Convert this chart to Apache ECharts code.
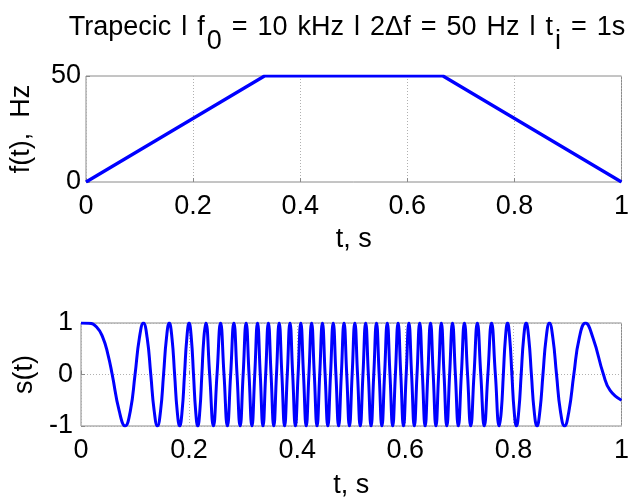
<!DOCTYPE html>
<html><head><meta charset="utf-8">
<script src="https://cdn.jsdelivr.net/npm/echarts@6/dist/echarts.min.js"></script>
<style>html,body{margin:0;padding:0;background:#fff}#c{width:632px;height:500px}</style>
</head><body><div id="c"></div>
<script>
// frequency law f(t)
const freqTime = [0, 0.33333, 0.66667, 1];
const freqHz = [0, 50, 50, 0];
const xTicks = [0, 0.2, 0.4, 0.6, 0.8, 1];

// signal s(t) read at extremes, zero crossings (and intermediate points where slow)
const sigTime = [
0, 0.01443, 0.02887, 0.04082, 0.05, 0.05774, 0.07071, 0.08165, 0.09129, 0.1,
0.10801, 0.11547, 0.12247, 0.1291, 0.1354, 0.14142, 0.1472, 0.15275, 0.15811, 0.1633,
0.16833, 0.17321, 0.17795, 0.18257, 0.18708, 0.19149, 0.19579, 0.2, 0.20412, 0.20817,
0.21213, 0.21602, 0.21985, 0.22361, 0.2273, 0.23094,
0.23805, 0.24495, 0.25166, 0.2582, 0.26458, 0.2708, 0.27689, 0.28284, 0.28868, 0.29439,
0.3, 0.30551, 0.31091, 0.31623, 0.32146, 0.3266, 0.33166,
0.33667, 0.34167, 0.34667, 0.35167, 0.35667, 0.36167, 0.36667, 0.37167, 0.37667, 0.38167,
0.38667, 0.39167, 0.39667, 0.40167, 0.40667, 0.41167, 0.41667, 0.42167, 0.42667, 0.43167,
0.43667, 0.44167, 0.44667, 0.45167, 0.45667, 0.46167, 0.46667, 0.47167, 0.47667, 0.48167,
0.48667, 0.49167, 0.49667, 0.50167, 0.50667, 0.51167, 0.51667, 0.52167, 0.52667, 0.53167,
0.53667, 0.54167, 0.54667, 0.55167, 0.55667, 0.56167, 0.56667, 0.57167, 0.57667, 0.58167,
0.58667, 0.59167, 0.59667, 0.60167, 0.60667, 0.61167, 0.61667, 0.62167, 0.62667, 0.63167,
0.63667, 0.64167, 0.64667, 0.65167, 0.65667, 0.66167, 0.66667,
0.6717, 0.67682, 0.68202, 0.68731, 0.69268, 0.69815, 0.70373, 0.70941, 0.7152, 0.72111,
0.72715, 0.73333, 0.73966, 0.74614, 0.75279, 0.75963, 0.76667, 0.77392,
0.77764, 0.78142, 0.78526, 0.78918, 0.79317, 0.79724, 0.80139, 0.80564, 0.80997, 0.81441,
0.81895, 0.82362, 0.82841, 0.83333, 0.83841, 0.84365, 0.84908, 0.8547, 0.86056, 0.86667,
0.87307, 0.87981, 0.88696, 0.89459, 0.90282, 0.91181, 0.92183, 0.93333, 0.9473, 0.96667,
0.97892, 1
];
const sigValue = [
1, 0.99518, 0.92388, 0.70711, 0.38268, 0, -0.70711, -1, -0.70711, 0,
0.70711, 1, 0.70711, 0, -0.70711, -1, -0.70711, 0, 0.70711, 1,
0.70711, 0, -0.70711, -1, -0.70711, 0, 0.70711, 1, 0.70711, 0,
-0.70711, -1, -0.70711, 0, 0.70711, 1,
0, -1, 0, 1, 0, -1, 0, 1, 0, -1,
0, 1, 0, -1, 0, 1, 0,
-1, 0, 1, 0, -1, 0, 1, 0, -1, 0,
1, 0, -1, 0, 1, 0, -1, 0, 1, 0,
-1, 0, 1, 0, -1, 0, 1, 0, -1, 0,
1, 0, -1, 0, 1, 0, -1, 0, 1, 0,
-1, 0, 1, 0, -1, 0, 1, 0, -1, 0,
1, 0, -1, 0, 1, 0, -1, 0, 1, 0,
-1, 0, 1, 0, -1, 0, 1,
0, -1, 0, 1, 0, -1, 0, 1, 0, -1,
0, 1, 0, -1, 0, 1, 0, -1,
-0.70711, 0, 0.70711, 1, 0.70711, 0, -0.70711, -1, -0.70711, 0,
0.70711, 1, 0.70711, 0, -0.70711, -1, -0.70711, 0, 0.70711, 1,
0.70711, 0, -0.70711, -1, -0.70711, 0, 0.70711, 1, 0.70711, 0,
-0.30902, -0.5
];

const FONT = 'Liberation Sans';
const TICK_FS = 27;
const chart = echarts.init(document.getElementById('c'), null, {renderer: 'canvas'});
const gridCommon = {left: 81, right: 5, show: true, borderColor: '#8a8a8a', borderWidth: 1, backgroundColor: 'transparent'};
const splitStyle = {show: true, lineStyle: {color: '#b0b0b0', type: [1, 2], width: 1}};
function xAxis(idx, gap) {
  return {
    gridIndex: idx, type: 'value', min: 0, max: 1, interval: 0.2,
    name: 't, s', nameLocation: 'middle', nameGap: gap,
    nameTextStyle: {fontFamily: FONT, fontSize: TICK_FS, color: '#000'},
    axisLine: {show: false},
    axisTick: {show: true, inside: true, length: 4, lineStyle: {color: '#8a8a8a'}},
    axisLabel: {fontFamily: FONT, fontSize: TICK_FS, color: '#000', margin: 11,
      formatter: v => String(xTicks.find(t => Math.abs(t - v) < 1e-9) ?? v)},
    splitLine: splitStyle
  };
}
const A = {fontFamily: FONT, fontSize: 27, color: '#000', fontWeight: 'normal', verticalAlign: 'top'};
chart.setOption({
  animation: false,
  title: {
    text: '{a|Trapecic}{w| }{a|l}{w| }{a|f}{s|0}{w| }{a|=}{w| }{a|10}{w| }{a|kHz}{w| }{a|l}{w| }{a|2Δf}{w| }{a|=}{w| }{a|50}{w| }{a|Hz}{w| }{a|l}{w| }{a|t}{s|i}{w| }{a|=}{w| }{a|1s}',
    left: 342, top: 9, textAlign: 'center',
    textStyle: {fontWeight: 'normal', rich: {
      a: A,
      w: Object.assign({}, A, {width: 10}),
      s: Object.assign({}, A, {padding: [14, 0, 0, 2]})
    }}
  },
  grid: [
    Object.assign({top: 76, height: 106}, gridCommon),
    Object.assign({top: 323, height: 107}, gridCommon)
  ],
  xAxis: [xAxis(0, 44), xAxis(1, 46)],
  yAxis: [
    {gridIndex: 0, type: 'value', min: 0, max: 50, interval: 50,
     name: 'f(t),  Hz', nameLocation: 'middle', nameGap: 51,
     nameTextStyle: {fontFamily: FONT, fontSize: TICK_FS, color: '#000'},
     axisLine: {show: false},
     axisTick: {show: true, inside: true, length: 4, lineStyle: {color: '#8a8a8a'}},
     axisLabel: {fontFamily: FONT, fontSize: TICK_FS, color: '#000', margin: 5},
     splitLine: {show: false}},
    {gridIndex: 1, type: 'value', min: -1, max: 1, interval: 1,
     name: 's(t)', nameLocation: 'middle', nameGap: 40,
     nameTextStyle: {fontFamily: FONT, fontSize: TICK_FS, color: '#000'},
     axisLine: {show: false},
     axisTick: {show: true, inside: true, length: 4, lineStyle: {color: '#8a8a8a'}},
     axisLabel: {fontFamily: FONT, fontSize: TICK_FS, color: '#000', margin: 8},
     splitLine: splitStyle}
  ],
  series: [
    {type: 'line', xAxisIndex: 0, yAxisIndex: 0, showSymbol: false, symbol: 'none',
     lineStyle: {color: '#0000ff', width: 3.2},
     data: freqTime.map((t, i) => [t, freqHz[i]])},
    {type: 'line', xAxisIndex: 1, yAxisIndex: 1, showSymbol: false, symbol: 'none',
     smooth: 0.5, lineStyle: {color: '#0000ff', width: 3},
     data: sigTime.map((t, i) => [t, sigValue[i]])}
  ]
});
</script></body></html>
